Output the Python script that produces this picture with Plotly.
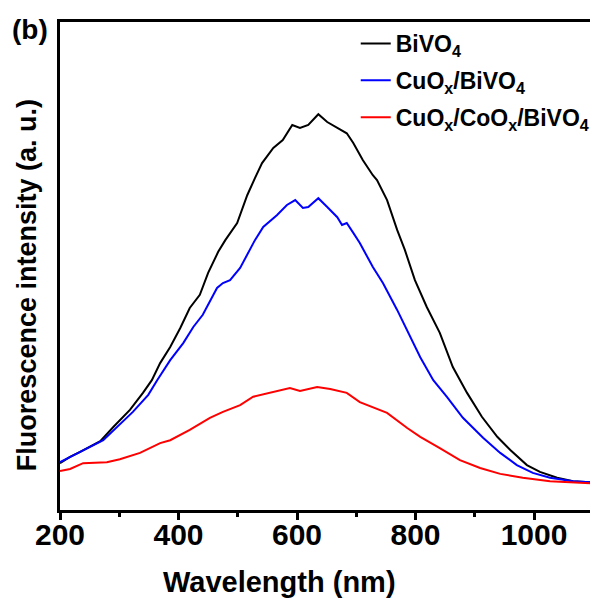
import plotly.graph_objects as go

# Photoluminescence spectra (wavelength in nm, intensity in arbitrary units)
wl_bivo4 = [200, 217, 234, 268, 290, 318, 340, 355, 369, 386, 403, 419, 436, 450, 467,
            479, 499, 516, 529, 541, 560, 576, 592, 605, 619, 636, 651, 668, 684, 695,
            711, 728, 735, 752, 769, 782, 799, 819, 841, 863, 887, 912, 938, 960, 988,
            1010, 1039, 1066, 1095]
int_bivo4 = [96, 109, 119, 141, 170, 205, 240, 266, 301, 334, 373, 414, 441, 486, 529,
             553, 588, 645, 680, 711, 742, 758, 789, 783, 789, 811, 795, 783, 772, 752,
             717, 686, 676, 635, 574, 533, 471, 416, 363, 293, 240, 191, 150, 123, 92,
             78, 66, 59, 57]

wl_cuox = [200, 217, 234, 273, 296, 323, 349, 364, 386, 408, 425, 441, 465, 475, 487,
           504, 529, 543, 566, 583, 597, 610, 619, 636, 651, 668, 676, 684, 695, 706,
           728, 745, 769, 786, 808, 830, 853, 880, 914, 943, 971, 998, 1027, 1066, 1095]
int_cuox = [98, 109, 119, 143, 170, 201, 236, 266, 307, 342, 375, 400, 455, 465, 471,
            496, 553, 580, 604, 625, 635, 619, 621, 639, 621, 600, 584, 588, 568, 547,
            498, 465, 410, 369, 313, 266, 232, 189, 148, 117, 92, 76, 66, 59, 57]

wl_cuox_coox = [200, 217, 239, 279, 301, 335, 369, 386, 419, 453, 475, 504, 526, 554,
                588, 605, 634, 656, 684, 706, 728, 752, 786, 808, 841, 875, 909, 943,
                981, 1027, 1095]
int_cuox_coox = [80, 84, 96, 98, 104, 117, 137, 143, 164, 189, 201, 215, 232, 240,
                 250, 244, 252, 248, 240, 221, 211, 199, 168, 150, 127, 102, 86, 74,
                 66, 59, 55]

series_names = ["BiVO<sub>4</sub>", "CuO<sub>x</sub>/BiVO<sub>4</sub>",
                "CuO<sub>x</sub>/CoO<sub>x</sub>/BiVO<sub>4</sub>"]
series_colors = ["#000000", "#0000ff", "#ff0000"]

x_ticks = [200, 400, 600, 800, 1000]
x_minor = [300, 500, 700, 900]

FONT = "Liberation Sans, Arial, sans-serif"

fig = go.Figure()
for i, (xs, ys, name, color) in enumerate(zip([wl_bivo4, wl_cuox, wl_cuox_coox],
                                              [int_bivo4, int_cuox, int_cuox_coox],
                                              series_names, series_colors)):
    fig.add_trace(go.Scatter(x=xs, y=ys, mode="lines", name=name,
                             legendgroup=f"g{i}",
                             line=dict(color=color, width=2)))

fig.update_layout(
    width=590, height=605,
    margin=dict(l=60, r=0, t=22, b=95, autoexpand=False),
    paper_bgcolor="white", plot_bgcolor="white",
    font=dict(family=FONT, size=24, color="black", weight="bold"),
    showlegend=True,
    legend=dict(x=0.558, y=1.0, xanchor="left", yanchor="top",
                bgcolor="rgba(0,0,0,0)", borderwidth=0,
                font=dict(family=FONT, size=23, color="black", weight="bold"),
                tracegroupgap=4, itemwidth=30),
)

fig.update_xaxes(
    range=[200, 1094.5], showgrid=False, zeroline=False,
    showline=True, linecolor="black", linewidth=2.5, mirror=True,
    tickmode="array", tickvals=x_ticks,
    ticks="outside", ticklen=7, tickwidth=2.5, tickcolor="black",
    ticklabelstandoff=-11,
    tickfont=dict(family=FONT, size=30, color="black", weight="bold"),
    minor=dict(tickmode="array", tickvals=x_minor, ticks="outside",
               ticklen=4, tickwidth=2.5, tickcolor="black"),
)
fig.update_yaxes(
    range=[0, 1000], showgrid=False, zeroline=False,
    showline=True, linecolor="black", linewidth=2.5, mirror=False,
    ticks="", showticklabels=False,
)

# Axis titles and panel label
fig.add_annotation(text="Wavelength (nm)", xref="paper", yref="paper",
                   x=0.415, y=-0.1475, xanchor="center", yanchor="middle",
                   showarrow=False,
                   font=dict(family=FONT, size=29, color="black", weight="bold"))
fig.add_annotation(text="Fluorescence intensity (a. u.)", xref="paper", yref="paper",
                   x=-0.063, y=0.46, xanchor="center", yanchor="middle",
                   textangle=-90, showarrow=False,
                   font=dict(family=FONT, size=27, color="black", weight="bold"))
fig.add_annotation(text="(b)", xref="paper", yref="paper",
                   x=-0.0566, y=0.984, xanchor="center", yanchor="middle",
                   showarrow=False,
                   font=dict(family=FONT, size=28, color="black", weight="bold"))

fig.write_html("out.html")
